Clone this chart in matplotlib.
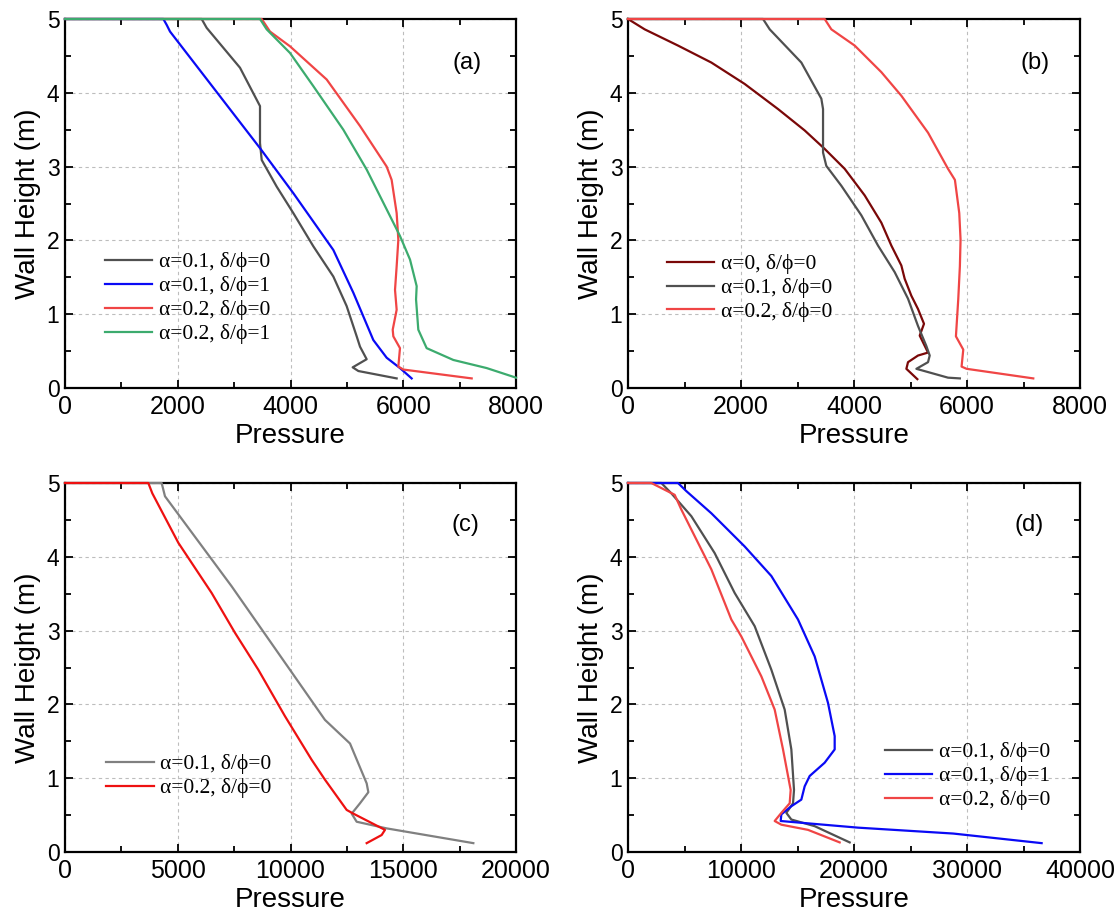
import matplotlib
matplotlib.use("Agg")
import matplotlib.pyplot as plt
from matplotlib.ticker import MultipleLocator

# ---- panel (a) ----
a_g_x = [0, 2424, 2513, 3104, 3459, 3459, 3489, 3754, 4050, 4405, 4760, 4996, 5174, 5233, 5351, 5103, 5204, 5883]
a_g_y = [5, 5, 4.88, 4.34, 3.82, 3.32, 3.09, 2.73, 2.37, 1.92, 1.51, 1.11, 0.70, 0.56, 0.39, 0.28, 0.23, 0.13]
a_b_x = [0, 1745, 1804, 1863, 3459, 4050, 4760, 5115, 5469, 5706, 5942, 6149]
a_b_y = [5, 5, 4.92, 4.83, 3.25, 2.64, 1.87, 1.29, 0.65, 0.41, 0.27, 0.13]
a_r_x = [0, 3489, 3636, 3991, 4642, 5233, 5706, 5794, 5883, 5913, 5883, 5854, 5883, 5813, 5824, 5942, 5913, 6002, 7214]
a_r_y = [5, 5, 4.83, 4.63, 4.18, 3.55, 3.00, 2.82, 2.37, 2.01, 1.65, 1.33, 1.06, 0.79, 0.70, 0.54, 0.29, 0.25, 0.13]
a_gr_x = [0, 3459, 3577, 3991, 4405, 4937, 5351, 5706, 5942, 6120, 6238, 6227, 6267, 6415, 6888, 7480, 8000]
a_gr_y = [5, 5, 4.86, 4.54, 4.09, 3.50, 2.96, 2.42, 2.06, 1.74, 1.38, 1.20, 0.79, 0.54, 0.38, 0.27, 0.14]

# ---- panel (b) ----
b_d_x = [0, 295, 885, 1475, 2065, 2655, 3127, 3481, 3835, 4189, 4484, 4661, 4838, 4897, 5015, 5133, 5239,
         5163, 5310, 5133, 4956, 4927, 5121]
b_d_y = [5, 4.86, 4.64, 4.41, 4.12, 3.78, 3.49, 3.24, 2.97, 2.61, 2.24, 1.93, 1.66, 1.48, 1.25, 1.07, 0.87,
         0.71, 0.48, 0.44, 0.35, 0.26, 0.12]
b_g_x = [0, 2390, 2508, 3068, 3422, 3452, 3452, 3510, 3776, 4130, 4425, 4720, 4956, 5133, 5280, 5340, 5310,
         5104, 5664, 5874]
b_g_y = [5, 5, 4.86, 4.41, 3.92, 3.78, 3.19, 3.01, 2.74, 2.34, 1.93, 1.57, 1.21, 0.84, 0.57, 0.44, 0.35,
         0.26, 0.14, 0.13]
b_r_x = [0, 3481, 3599, 4012, 4484, 4838, 5310, 5664, 5786, 5863, 5886, 5874, 5845, 5804, 5934, 5904, 5993, 7173]
b_r_y = [5, 5, 4.86, 4.64, 4.28, 3.96, 3.46, 2.97, 2.82, 2.37, 2.01, 1.65, 1.20, 0.70, 0.52, 0.29, 0.26, 0.13]

# ---- panel (c) ----
c_g_x = [0, 4286, 4434, 7390, 11528, 12639, 13378, 13452, 13082, 12713, 12934, 14264, 18108]
c_g_y = [5, 5, 4.82, 3.60, 1.79, 1.47, 0.93, 0.81, 0.66, 0.52, 0.41, 0.32, 0.12]
c_r_x = [0, 3695, 3872, 5025, 6503, 7538, 8572, 9755, 10937, 11528, 12491, 12786, 14190, 14042, 13378]
c_r_y = [5, 5, 4.86, 4.19, 3.51, 2.97, 2.47, 1.84, 1.25, 0.98, 0.57, 0.52, 0.30, 0.23, 0.12]

# ---- panel (d) ----
d_g_x = [0, 2950, 3835, 5605, 7670, 9440, 11210, 12685, 13865, 14455, 14691, 14603, 14013, 14455, 16520, 19618]
d_g_y = [5, 5, 4.86, 4.55, 4.05, 3.51, 3.06, 2.47, 1.93, 1.39, 0.84, 0.66, 0.53, 0.44, 0.35, 0.13]
d_b_x = [0, 4425, 5163, 7375, 10325, 12685, 15045, 16520, 17700, 18290, 18290, 17405, 16078, 15635, 15340,
         14455, 13570, 13511, 20355, 28782, 36605]
d_b_y = [5, 5, 4.89, 4.59, 4.14, 3.74, 3.15, 2.65, 2.02, 1.57, 1.39, 1.21, 1.03, 0.89, 0.71,
         0.62, 0.51, 0.42, 0.33, 0.25, 0.12]
d_r_x = [0, 2065, 4130, 4720, 5900, 7375, 9145, 10030, 11800, 12980, 13718, 14396, 14308, 13570, 12980,
         13570, 15930, 18733]
d_r_y = [5, 5, 4.84, 4.64, 4.28, 3.83, 3.15, 2.92, 2.38, 1.93, 1.39, 0.84, 0.66, 0.53, 0.42,
         0.37, 0.30, 0.13]

labels_a = ["α=0.1, δ/ϕ=0", "α=0.1, δ/ϕ=1", "α=0.2, δ/ϕ=0", "α=0.2, δ/ϕ=1"]
labels_b = ["α=0, δ/ϕ=0", "α=0.1, δ/ϕ=0", "α=0.2, δ/ϕ=0"]
labels_c = ["α=0.1, δ/ϕ=0", "α=0.2, δ/ϕ=0"]
labels_d = ["α=0.1, δ/ϕ=0", "α=0.1, δ/ϕ=1", "α=0.2, δ/ϕ=0"]

GRAY = "#505050"
BLUE = "#0a0af5"
RED = "#f04545"
GREEN = "#3cab6e"
DARKRED = "#7a0808"
LGRAY = "#808080"
PURE_RED = "#ee1111"

SANS = ["Liberation Sans", "DejaVu Sans"]
SERIF = ["Liberation Serif", "DejaVu Serif"]

fig = plt.figure(figsize=(11.14, 9.17), dpi=100)
W, H = 1114, 917


def make_ax(l, t, r, b):
    return fig.add_axes([l / W, 1 - b / H, (r - l) / W, (b - t) / H])


def style(ax, xmax, xstep, letter, lx, ly):
    ax.set_xlim(0, xmax)
    ax.set_ylim(0, 5)
    ax.xaxis.set_major_locator(MultipleLocator(xstep))
    ax.xaxis.set_minor_locator(MultipleLocator(xstep / 2))
    ax.yaxis.set_major_locator(MultipleLocator(1))
    ax.yaxis.set_minor_locator(MultipleLocator(0.5))
    ax.tick_params(which="both", direction="in", top=True, right=True, width=1.3)
    ax.tick_params(which="major", length=6)
    ax.tick_params(which="minor", length=4)
    ax.tick_params(axis="x", which="major", labelsize=18, pad=5)
    ax.tick_params(axis="y", which="major", labelsize=16.5, pad=4)
    for lab in ax.get_xticklabels() + ax.get_yticklabels():
        lab.set_family(SANS)
    for s in ax.spines.values():
        s.set_linewidth(1.6)
    ax.grid(True, which="major", color="#bdbdbd", linestyle=(0, (3, 3)), linewidth=0.8)
    ax.set_axisbelow(True)
    ax.set_xlabel("Pressure", family=SANS, fontsize=20, labelpad=3)
    ax.set_ylabel("Wall Height (m)", family=SANS, fontsize=20, labelpad=4)
    ax.text(lx, ly, letter, transform=ax.transAxes, fontsize=17, family=SANS,
            ha="center", va="center")


def legend(ax, anchor):
    return ax.legend(loc="upper left", bbox_to_anchor=anchor, frameon=False,
                     prop={"family": SERIF, "size": 15.5}, handlelength=2.2,
                     handletextpad=0.3, labelspacing=0.18, borderaxespad=0, borderpad=0)


lw = 1.6


def curve(ax, x, y, color, label):
    ax.plot(x, y, color=color, lw=lw, label=label, clip_on=False, zorder=3)


ax = make_ax(65, 19, 516, 388)
curve(ax, a_g_x, a_g_y, GRAY, labels_a[0])
curve(ax, a_b_x, a_b_y, BLUE, labels_a[1])
curve(ax, a_r_x, a_r_y, RED, labels_a[2])
curve(ax, a_gr_x, a_gr_y, GREEN, labels_a[3])
style(ax, 8000, 2000, "(a)", 0.891, 0.881)
legend(ax, (0.088, 0.368))

ax = make_ax(628, 19, 1080, 388)
curve(ax, b_d_x, b_d_y, DARKRED, labels_b[0])
curve(ax, b_g_x, b_g_y, GRAY, labels_b[1])
curve(ax, b_r_x, b_r_y, RED, labels_b[2])
style(ax, 8000, 2000, "(b)", 0.90, 0.881)
legend(ax, (0.086, 0.363))

ax = make_ax(65, 483, 516, 852)
curve(ax, c_g_x, c_g_y, LGRAY, labels_c[0])
curve(ax, c_r_x, c_r_y, PURE_RED, labels_c[1])
style(ax, 20000, 5000, "(c)", 0.887, 0.886)
legend(ax, (0.092, 0.265))

ax = make_ax(628, 483, 1080, 852)
curve(ax, d_g_x, d_g_y, GRAY, labels_d[0])
curve(ax, d_b_x, d_b_y, BLUE, labels_d[1])
curve(ax, d_r_x, d_r_y, RED, labels_d[2])
style(ax, 40000, 10000, "(d)", 0.887, 0.886)
legend(ax, (0.568, 0.297))

fig.savefig("out.png", dpi=100)
